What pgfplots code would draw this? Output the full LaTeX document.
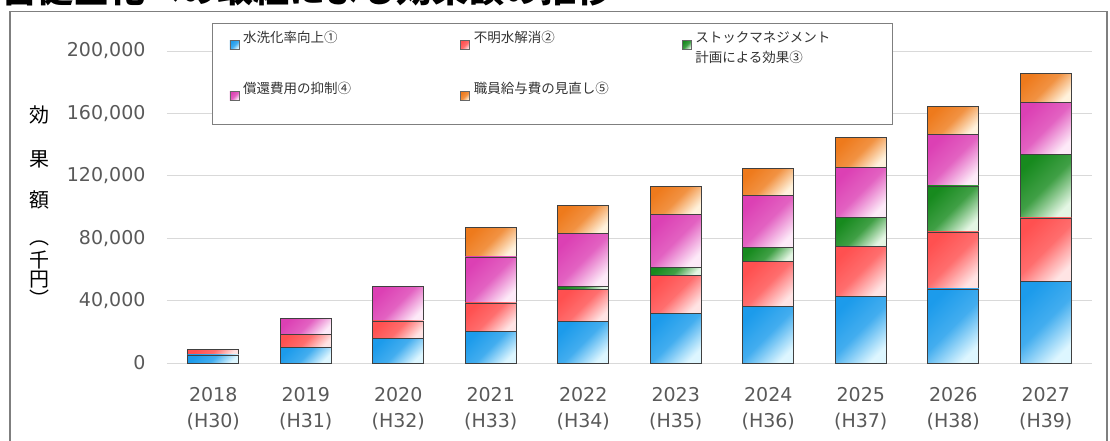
\documentclass[border=0pt]{standalone}
\usepackage{pgfplots}
\pgfplotsset{compat=1.18}
\usetikzlibrary{backgrounds}
\usepackage{fontspec}
\setmainfont{DejaVu Sans}
\newfontfamily\cjk{Noto Sans CJK JP}
\definecolor{tickgray}{HTML}{595959}
\definecolor{gridgray}{HTML}{D9D9D9}
\definecolor{frameg}{HTML}{7F7F7F}
\definecolor{blueD}{HTML}{1C9BEB}\definecolor{blueL}{HTML}{DDF6FF}
\definecolor{redD}{HTML}{FF5050}\definecolor{redL}{HTML}{FFE4E4}
\definecolor{greenD}{HTML}{178A1E}\definecolor{greenL}{HTML}{E4F6E4}
\definecolor{pinkD}{HTML}{DC40B4}\definecolor{pinkL}{HTML}{FDEAF8}
\definecolor{orangeD}{HTML}{EE7A1C}\definecolor{orangeL}{HTML}{FFF2DC}
\makeatletter
\newcommand\newstack{\global\pgfplots@stacked@isfirstplottrue}
\makeatother
\pgfplotsset{
  sb/.style={top color=blueD, bottom color=blueL, middle color=blueD!80!blueL, shading angle=45},
  sr/.style={top color=redD, bottom color=redL, middle color=redD!80!redL, shading angle=45},
  sg/.style={top color=greenD, bottom color=greenL, middle color=greenD!80!greenL, shading angle=45},
  sp/.style={top color=pinkD, bottom color=pinkL, middle color=pinkD!80!pinkL, shading angle=45},
  so/.style={top color=orangeD, bottom color=orangeL, middle color=orangeD!80!orangeL, shading angle=45},
}
\begin{document}
\begin{tikzpicture}[x=1pt,y=1pt]
\begin{axis}[
  scale only axis, width=925pt, height=327.6pt,
  xmin=-0.5, xmax=9.5, ymin=0, ymax=210000,
  enlargelimits=false,
  ybar stacked, bar width=51pt,
  axis line style={draw=none},
  major tick length=0pt,
  ymajorgrids, grid style={gridgray, line width=1pt},
  xtick={0,...,9},
  xticklabels={{2018\\(H30)},{2019\\(H31)},{2020\\(H32)},{2021\\(H33)},{2022\\(H34)},{2023\\(H35)},{2024\\(H36)},{2025\\(H37)},{2026\\(H38)},{2027\\(H39)}},
  xticklabel style={align=center, font=\fontsize{19}{26}\selectfont, text=tickgray, yshift=-21pt},
  ytick={0,40000,80000,120000,160000,200000},
  scaled y ticks=false,
  yticklabel style={font=\fontsize{19}{23}\selectfont, text=tickgray, xshift=-18pt,
    /pgf/number format/1000 sep={,}, /pgf/number format/fixed, /pgf/number format/assume math mode=true},
  every axis plot/.append style={draw=black!75, line width=0.7pt},
  legend image code/.code={\draw[#1, draw=black!60, line width=0.6pt] (0pt,-1pt) rectangle (9pt,8pt);},
  legend columns=3,
  legend cell align=left,
  legend style={at={(0.0486,1.0378)}, anchor=north west, draw=frameg, line width=1.2pt, fill=white,
    inner xsep=17pt, inner ysep=9pt, row sep=19pt,
    font=\cjk\fontsize{13.5}{20}\selectfont, text=black!80,
    nodes={inner xsep=4pt, inner ysep=0pt, text height=10pt, text depth=22pt, text width=176pt, align=left},
    /tikz/column 2/.append style={column sep=37pt},
    /tikz/column 4/.append style={column sep=28pt}},
]
\coordinate (O) at (rel axis cs:0,0);
\addlegendimage{sb}\addlegendentry{水洗化率向上①}
\addlegendimage{sr}\addlegendentry{不明水解消②}
\addlegendimage{sg}\addlegendentry{ストックマネジメント\\計画による効果③}
\addlegendimage{sp}\addlegendentry{償還費用の抑制④}
\addlegendimage{so}\addlegendentry{職員給与費の見直し⑤}
% 2018
\newstack
\addplot[sb] coordinates {(0,5200)};
\addplot[sr] coordinates {(0,3300)};
% 2019
\newstack
\addplot[sb] coordinates {(1,10000)};
\addplot[sr] coordinates {(1,8500)};
\addplot[sp] coordinates {(1,10000)};
% 2020
\newstack
\addplot[sb] coordinates {(2,16000)};
\addplot[sr] coordinates {(2,11000)};
\addplot[sp] coordinates {(2,22000)};
% 2021
\newstack
\addplot[sb] coordinates {(3,20500)};
\addplot[sr] coordinates {(3,18000)};
\addplot[sp] coordinates {(3,29500)};
\addplot[so] coordinates {(3,19000)};
% 2022
\newstack
\addplot[sb] coordinates {(4,26500)};
\addplot[sr] coordinates {(4,20500)};
\addplot[sg] coordinates {(4,2000)};
\addplot[sp] coordinates {(4,34000)};
\addplot[so] coordinates {(4,18000)};
% 2023
\newstack
\addplot[sb] coordinates {(5,32000)};
\addplot[sr] coordinates {(5,24000)};
\addplot[sg] coordinates {(5,5500)};
\addplot[sp] coordinates {(5,33500)};
\addplot[so] coordinates {(5,18000)};
% 2024
\newstack
\addplot[sb] coordinates {(6,36500)};
\addplot[sr] coordinates {(6,28500)};
\addplot[sg] coordinates {(6,9000)};
\addplot[sp] coordinates {(6,33500)};
\addplot[so] coordinates {(6,17500)};
% 2025
\newstack
\addplot[sb] coordinates {(7,42500)};
\addplot[sr] coordinates {(7,32500)};
\addplot[sg] coordinates {(7,18500)};
\addplot[sp] coordinates {(7,32000)};
\addplot[so] coordinates {(7,19000)};
% 2026
\newstack
\addplot[sb] coordinates {(8,47500)};
\addplot[sr] coordinates {(8,36500)};
\addplot[sg] coordinates {(8,29500)};
\addplot[sp] coordinates {(8,33000)};
\addplot[so] coordinates {(8,18000)};
% 2027
\newstack
\addplot[sb] coordinates {(9,52500)};
\addplot[sr] coordinates {(9,40500)};
\addplot[sg] coordinates {(9,40500)};
\addplot[sp] coordinates {(9,33500)};
\addplot[so] coordinates {(9,18500)};
\end{axis}
\begin{scope}[shift={(O)}, xshift=-167pt, yshift=-77pt]
\pgfresetboundingbox
\useasboundingbox (0,0) rectangle (1110,440);
\begin{scope}[on background layer]
\fill[white] (0,0) rectangle (1110,440);
\end{scope}
\node[anchor=base west, inner sep=0pt, font=\cjk\bfseries\fontsize{36}{36}\selectfont] at (-35,437) {経営健全化への取組による効果額の推移};
\draw[frameg, line width=1.6pt] (10,-10) -- (10,428.5) -- (1107,428.5) -- (1107,-10);
\begin{scope}[font=\cjk\fontsize{20}{20}\selectfont, text=black]
\node at (40,325) {効};
\node at (40,281) {果};
\node at (40,240) {額};
\node at (40,197) {︵};
\node at (40,180) {千};
\node at (40,160) {円};
\node at (40,142) {︶};
\end{scope}
\end{scope}
\end{tikzpicture}
\end{document}
